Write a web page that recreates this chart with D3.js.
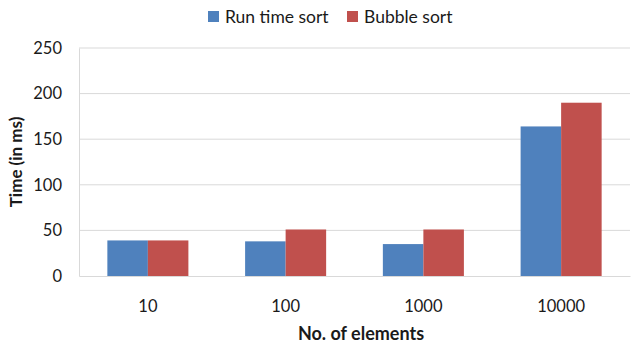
<!DOCTYPE html>
<html><head><meta charset="utf-8">
<script src="https://cdn.jsdelivr.net/npm/d3@7"></script>
<style>body{margin:0;background:#fff}svg{display:block}text{font-family:Lato,"Open Sans",sans-serif;fill:#1a1a1a}</style>
</head><body><svg id="c" width="642" height="345"></svg>
<script>
const categories = ["10", "100", "1000", "10000"];
const seriesNames = ["Run time sort", "Bubble sort"];
const runTime = [39, 38, 35, 164];
const bubble = [39, 51, 51, 190];
const yTicks = [0, 50, 100, 150, 200, 250];
const colors = ["#4F81BD", "#C0504D"];

const svg = d3.select("#c");
const m = {l: 79, r: 12, t: 48, b: 69};
const W = 642, H = 345;
const x = d3.scaleBand().domain(categories).range([m.l, W - m.r]);
const xs = d3.scaleBand().domain(seriesNames).range([0, x.bandwidth()]).paddingOuter(0.7);
const y = d3.scaleLinear().domain([0, 250]).range([H - m.b, m.t]);

svg.append("g").selectAll("line").data(yTicks.slice(1)).join("line")
  .attr("x1", m.l).attr("x2", W - m.r).attr("y1", d => y(d)).attr("y2", d => y(d))
  .attr("stroke", "#d9d9d9").attr("stroke-width", 1);

const yAxis = svg.append("g").attr("transform", `translate(${m.l},0)`)
  .call(d3.axisLeft(y).tickValues(yTicks).tickSize(0).tickPadding(17));
yAxis.select(".domain").attr("stroke", "#d9d9d9");
yAxis.selectAll("text").style("font-size", "16.5px").style("font-family", "Lato, sans-serif").attr("fill", "#1a1a1a");

const data = categories.map((c, i) => ({c, v: [runTime[i], bubble[i]]}));
const g = svg.append("g").selectAll("g").data(data).join("g").attr("transform", d => `translate(${x(d.c)},0)`);
g.selectAll("rect").data(d => d.v.map((v, j) => ({s: seriesNames[j], v, j}))).join("rect")
  .attr("x", d => xs(d.s)).attr("width", xs.bandwidth())
  .attr("y", d => y(d.v)).attr("height", d => y(0) - y(d.v))
  .attr("fill", d => colors[d.j]);

const xAxis = svg.append("g").attr("transform", `translate(0,${y(0)})`)
  .call(d3.axisBottom(x).tickSize(0).tickPadding(24));
xAxis.select(".domain").attr("stroke", "#d9d9d9");
xAxis.selectAll("text").style("font-size", "16.5px").style("font-family", "Lato, sans-serif").attr("fill", "#1a1a1a");

svg.append("text").attr("x", 361).attr("y", 340).attr("text-anchor", "middle")
  .style("font-size", "18px").style("font-weight", "bold").text("No. of elements");
svg.append("text").attr("transform", `translate(22,${(m.t + H - m.b) / 2}) rotate(-90)`)
  .attr("text-anchor", "middle").style("font-size", "17px").style("font-weight", "bold").text("Time (in ms)");

const leg = svg.append("g");
const legX = [208, 347];
seriesNames.forEach((s, i) => {
  leg.append("rect").attr("x", legX[i]).attr("y", 11).attr("width", 11).attr("height", 11).attr("fill", colors[i]);
  leg.append("text").attr("x", legX[i] + 17).attr("y", 22.5).style("font-size", "17.5px").text(s);
});
</script></body></html>
